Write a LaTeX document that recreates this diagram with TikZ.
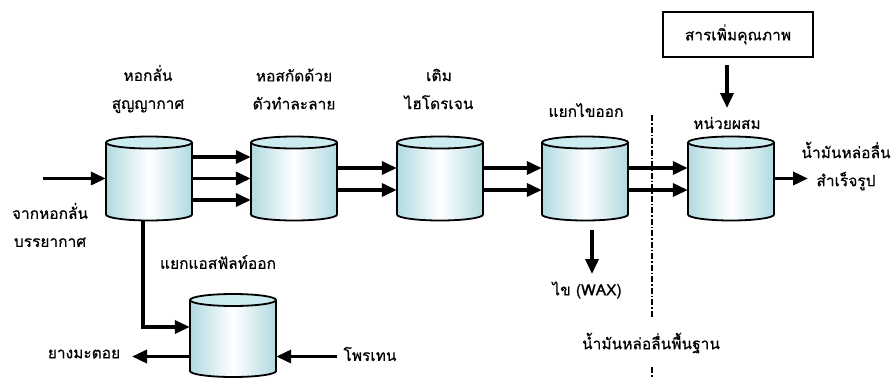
\documentclass[tikz,border=0pt]{standalone}
\usepackage{fontspec}
\setmainfont[Script=Thai, FakeBold=0.6]{Loma}
\usetikzlibrary{arrows.meta}
\definecolor{tankedge}{RGB}{176,218,224}
\definecolor{tanktop}{RGB}{204,236,240}
\tikzset{
  flow/.style={line width=3.5pt, -{Triangle[length=15pt,width=13pt]}},
  lbl/.style={font=\fontsize{15.5}{28}\selectfont, inner sep=0pt, align=center},
  tankbox/.style={minimum width=86pt, minimum height=84pt, inner sep=0pt},
  divider/.style={line width=1.2pt, dash pattern=on 6pt off 2pt on 1.5pt off 2pt},
  addbox/.style={draw, line width=1.1pt, minimum width=150pt, minimum height=45pt, inner sep=0pt},
}
% \tank{name}{centre x}{top ellipse y}{bottom ellipse y}
\newcommand\tank[4]{%
  \shade[left color=tankedge, right color=tankedge, middle color=white]
    (#2-43,#3) -- (#2-43,#4) arc[start angle=180, end angle=360, x radius=43pt, y radius=6pt]
    -- (#2+43,#3) -- cycle;
  \draw[line width=1.8pt]
    (#2-43,#3) -- (#2-43,#4) arc[start angle=180, end angle=360, x radius=43pt, y radius=6pt]
    -- (#2+43,#3);
  \filldraw[fill=tanktop, line width=1.8pt] (#2,#3) ellipse[x radius=43pt, y radius=6pt];
  \node[tankbox] (#1) at (#2,{(#3+#4)/2}) {};
}
\begin{document}
\begin{tikzpicture}[x=1pt, y=-1pt]
\useasboundingbox (0,0) rectangle (893,378);

% process towers
\tank{t1}{149}{142.5}{214.5}
\tank{t2}{294}{142.5}{214.5}
\tank{t3}{440}{142.5}{214.5}
\tank{t4}{585}{142.5}{214.5}
\tank{t5}{731}{142.5}{214.5}
\tank{t6}{233}{300}{371}

% labels
\node[lbl] (l1) at (148,89) {หอกลั่น\\สูญญากาศ};
\node[lbl] (l2) at (294,89) {หอสกัดด้วย\\ตัวทำละลาย};
\node[lbl] (l3) at (439,89) {เติม\\ไฮโดรเจน};
\node[lbl] (l4) at (586,110) {แยกไขออก};
\node[lbl] (l5) at (727,123) {หน่วยผสม};
\node[lbl] (l6) at (846,166) {น้ำมันหล่อลื่น\\สำเร็จรูป};
\node[lbl] (l7) at (50,225) {จากหอกลั่น\\บรรยากาศ};
\node[lbl] (l8) at (218,262) {แยกแอสฟัลท์ออก};
\node[lbl] (bitumen) at (84,354) {ยางมะตอย};
\node[lbl] (propane) at (370,354) {โพรเทน};
\node[lbl] (wax) at (587,290) {ไข (WAX)};
\node[lbl] (base) at (651,343) {น้ำมันหล่อลื่นพื้นฐาน};
\node[addbox, lbl] (add) at (738,34.5) {สารเพิ่มคุณภาพ};

% free ends of the streams
\coordinate (feed) at (43,178.5);
\coordinate (product) at (808,178.5);
\coordinate (waxtop) at (592,230);
\coordinate (waxend) at (592,274);
\coordinate (addtop) at (727,65);
\coordinate (addend) at (727,108);
\coordinate (bitend) at (132,356.5);
\coordinate (proptop) at (337,356.5);

% main train
\draw[flow] (feed) -- (t1.west);
\draw[flow] ([yshift=21.5pt]t1.east) -- ([yshift=21.5pt]t2.west);
\draw[flow] (t1.east) -- (t2.west);
\draw[flow] ([yshift=-21.5pt]t1.east) -- ([yshift=-21.5pt]t2.west);
\foreach \a/\b in {t2/t3, t3/t4, t4/t5}{
  \draw[flow] ([yshift=10.5pt]\a.east) -- ([yshift=10.5pt]\b.west);
  \draw[flow] ([yshift=-11.5pt]\a.east) -- ([yshift=-11.5pt]\b.west);
}
\draw[flow] (t5.east) -- (product);

% side streams
\draw[flow] ([xshift=-6pt]t1.south) |- ([yshift=8.5pt]t6.west);
\draw[flow] ([yshift=-21pt]t6.west) -- (bitend);
\draw[flow] (proptop) -- ([yshift=-21pt]t6.east);
\draw[flow] (waxtop) -- (waxend);
\draw[flow] (addtop) -- (addend);

% boundary between base oil and finished product
\draw[divider] (652,115) -- (652,318);
\draw[divider] (652,367) -- (652,378);
\end{tikzpicture}
\end{document}
